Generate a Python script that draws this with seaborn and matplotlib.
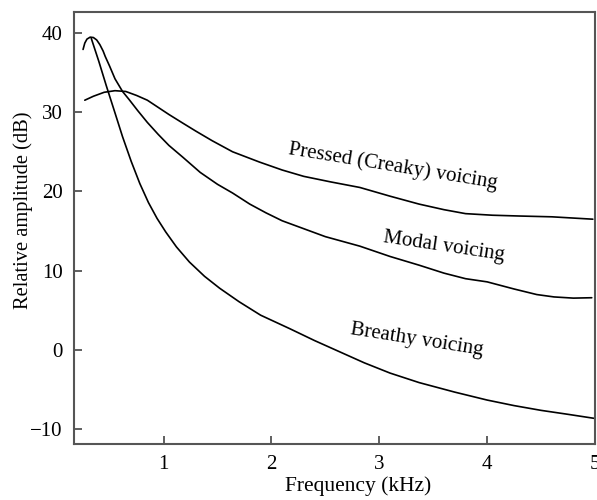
import matplotlib
matplotlib.use("Agg")
import matplotlib.pyplot as plt
import seaborn as sns
import pandas as pd

# Frequency (kHz) / relative amplitude (dB)
pressed_f = [0.27, 0.35, 0.45, 0.55, 0.65, 0.75, 0.85, 0.95, 1.05, 1.18, 1.30, 1.45, 1.64,
             1.89, 2.10, 2.30, 2.55, 2.82, 3.10, 3.37, 3.60, 3.80, 4.05, 4.30, 4.60, 4.98]
pressed_db = [31.5, 32.0, 32.5, 32.7, 32.6, 32.1, 31.5, 30.6, 29.7, 28.6, 27.6, 26.4, 25.0,
              23.7, 22.7, 21.9, 21.2, 20.5, 19.4, 18.4, 17.7, 17.2, 17.0, 16.9, 16.8, 16.5]

modal_f = [0.254, 0.27, 0.29, 0.32, 0.35, 0.38, 0.41, 0.44, 0.46, 0.50, 0.55, 0.62, 0.68,
           0.76, 0.85, 0.95, 1.05, 1.18, 1.34, 1.50, 1.64, 1.80, 1.95, 2.10, 2.26, 2.50,
           2.82, 3.10, 3.37, 3.60, 3.80, 4.00, 4.25, 4.46, 4.62, 4.80, 4.97]
modal_db = [37.9, 38.7, 39.2, 39.45, 39.4, 39.1, 38.5, 37.7, 37.0, 35.8, 34.2, 32.6, 31.6,
            30.2, 28.7, 27.2, 25.8, 24.3, 22.4, 20.9, 19.8, 18.4, 17.3, 16.3, 15.5, 14.3,
            13.1, 11.8, 10.7, 9.7, 9.0, 8.6, 7.7, 7.0, 6.7, 6.55, 6.6]

breathy_f = [0.33, 0.40, 0.47, 0.55, 0.62, 0.70, 0.78, 0.86, 0.94, 1.02, 1.12, 1.24, 1.38,
             1.52, 1.70, 1.90, 2.17, 2.40, 2.63, 2.86, 3.10, 3.37, 3.70, 4.00, 4.25, 4.50,
             4.75, 4.99]
breathy_db = [39.3, 36.4, 33.3, 29.9, 26.9, 23.8, 21.0, 18.6, 16.6, 14.9, 13.0, 11.1, 9.3,
              7.8, 6.1, 4.4, 2.7, 1.2, -0.2, -1.6, -2.9, -4.1, -5.3, -6.3, -7.0, -7.6,
              -8.1, -8.6]

series_names = ["Pressed (Creaky) voicing", "Modal voicing", "Breathy voicing"]
label_pos_f = [3.13, 3.60, 3.35]
label_pos_db = [23.1, 13.0, 1.3]
label_rot = [-9.3, -8.5, -9.0]

x_ticks = [1, 2, 3, 4, 5]
y_ticks = [-10, 0, 10, 20, 30, 40]
y_ticklabels = ["\u221210", "0", "10", "20", "30", "40"]

sns.set_theme(style="ticks")
plt.rcParams["font.family"] = ["Liberation Serif", "DejaVu Serif"]

fig = plt.figure(figsize=(5.97, 5.0), dpi=100)
ax = fig.add_axes([74 / 597, 56 / 500, (595 - 74) / 597, (444 - 12) / 500])

for fx, dbv in [(pressed_f, pressed_db), (modal_f, modal_db), (breathy_f, breathy_db)]:
    df = pd.DataFrame({"f": fx, "db": dbv})
    sns.lineplot(data=df, x="f", y="db", ax=ax, color="black", linewidth=1.2,
                 sort=False, estimator=None)

for name, fx, dy, rot in zip(series_names, label_pos_f, label_pos_db, label_rot):
    ax.text(fx, dy, name, fontsize=15, rotation=rot, ha="center", va="center",
            rotation_mode="anchor", color="black")

ax.set_xlim(0.17, 5.0)
ax.set_ylim(-11.84, 42.62)
ax.set_xticks(x_ticks)
ax.set_xticklabels([str(t) for t in x_ticks])
ax.set_yticks(y_ticks)
ax.set_yticklabels(y_ticklabels)
ax.tick_params(direction="in", length=6, width=1.2, color="#444444", labelsize=15,
               labelcolor="black", pad=8)
for s in ax.spines.values():
    s.set_linewidth(1.5)
    s.set_color("#555555")
ax.set_xlabel("Frequency (kHz)", fontsize=15.5, color="black")
ax.set_ylabel("Relative amplitude (dB)", fontsize=14.8, color="black")
ax.xaxis.set_label_coords(0.545, -0.075)
ax.yaxis.set_label_coords(-0.079, 0.542)
ax.grid(False)

fig.savefig("out.png", dpi=100)
